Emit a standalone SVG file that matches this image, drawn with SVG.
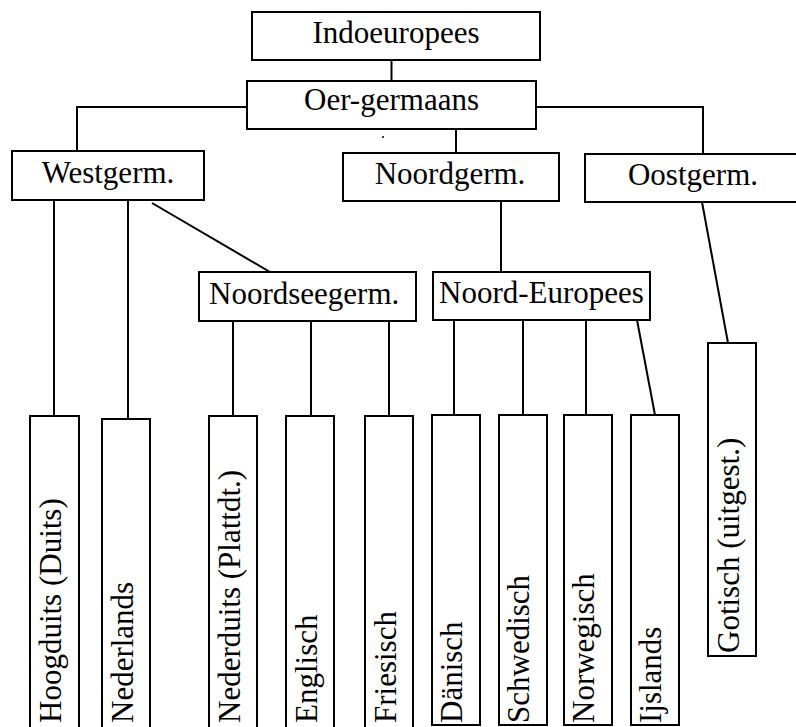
<svg xmlns="http://www.w3.org/2000/svg" width="796" height="727" viewBox="0 0 796 727" font-family="'Liberation Serif', 'Times New Roman', 'DejaVu Serif', serif">
<style>
rect{fill:#fff;stroke:#000;stroke-width:2}
line,polyline{fill:none;stroke:#000;stroke-width:2}
text{font-family:'Liberation Serif','Times New Roman','DejaVu Serif',serif;font-size:31px;fill:#000}
.c{text-anchor:middle}
</style>
<rect x="0" y="0" width="796" height="727" style="stroke:none"/>
<g id="connectors">
<line x1="391.5" y1="60" x2="391.5" y2="81"/>
<polyline points="247,107 77,107 77,151"/>
<polyline points="536,107 703,107 703,154"/>
<line x1="456" y1="129" x2="456" y2="153"/>
<line x1="54" y1="200" x2="54" y2="416"/>
<line x1="128" y1="200" x2="128" y2="419"/>
<line x1="152" y1="203" x2="270" y2="272"/>
<line x1="233" y1="321" x2="233" y2="416"/>
<line x1="311" y1="321" x2="311" y2="416"/>
<line x1="389" y1="321" x2="389" y2="416"/>
<line x1="501" y1="201" x2="501" y2="272"/>
<line x1="454" y1="320" x2="454" y2="415"/>
<line x1="523" y1="320" x2="523" y2="415"/>
<line x1="586" y1="320" x2="586" y2="415"/>
<line x1="637" y1="320" x2="655" y2="415"/>
<line x1="702" y1="202" x2="728" y2="343"/>
</g>
<g id="indoeuropees"><rect x="252" y="12" width="288" height="48"/><text class="c" x="396" y="43">Indoeuropees</text></g>
<g id="oergermaans"><rect x="247" y="81" width="289" height="48"/><text class="c" x="391.5" y="110">Oer-germaans</text></g>
<circle cx="383" cy="137" r="1" fill="#000"/>
<g id="westgerm"><rect x="12" y="151" width="192" height="49"/><text class="c" x="108" y="183">Westgerm.</text></g>
<g id="noordgerm"><rect x="343" y="153" width="216" height="48"/><text class="c" x="450" y="184">Noordgerm.</text></g>
<g id="oostgerm"><rect x="585" y="154" width="220" height="48"/><text class="c" x="693" y="185">Oostgerm.</text></g>
<g id="noordseegerm"><rect x="199" y="272" width="217" height="49"/><text x="209" y="304">Noordseegerm.</text></g>
<g id="noordeuropees"><rect x="433" y="272" width="217" height="48"/><text class="c" x="541.5" y="303">Noord-Europees</text></g>
<g id="hoogduits"><rect x="30" y="416" width="49" height="320"/><text transform="translate(61,723) rotate(-90)">Hoogduits (Duits)</text></g>
<g id="nederlands"><rect x="102" y="419" width="48" height="320"/><text transform="translate(133,723) rotate(-90)">Nederlands</text></g>
<g id="nederduits"><rect x="209" y="416" width="48" height="320"/><text transform="translate(240,723) rotate(-90)">Nederduits (Plattdt.)</text></g>
<g id="englisch"><rect x="286" y="416" width="48" height="320"/><text transform="translate(317,723) rotate(-90)">Englisch</text></g>
<g id="friesisch"><rect x="365" y="416" width="48" height="320"/><text transform="translate(396,723) rotate(-90)">Friesisch</text></g>
<g id="danisch"><rect x="432" y="415" width="48" height="310"/><text transform="translate(462,723) rotate(-90)">Dänisch</text></g>
<g id="schwedisch"><rect x="499" y="415" width="48" height="310"/><text transform="translate(529,723) rotate(-90)">Schwedisch</text></g>
<g id="norwegisch"><rect x="564" y="415" width="48" height="310"/><text transform="translate(594,723) rotate(-90)">Norwegisch</text></g>
<g id="ijslands"><rect x="631" y="415" width="48" height="310"/><text transform="translate(661,723) rotate(-90)">Ijslands</text></g>
<g id="gotisch"><rect x="708" y="343" width="48" height="313"/><text transform="translate(739,653) rotate(-90)">Gotisch (uitgest.)</text></g>
</svg>
